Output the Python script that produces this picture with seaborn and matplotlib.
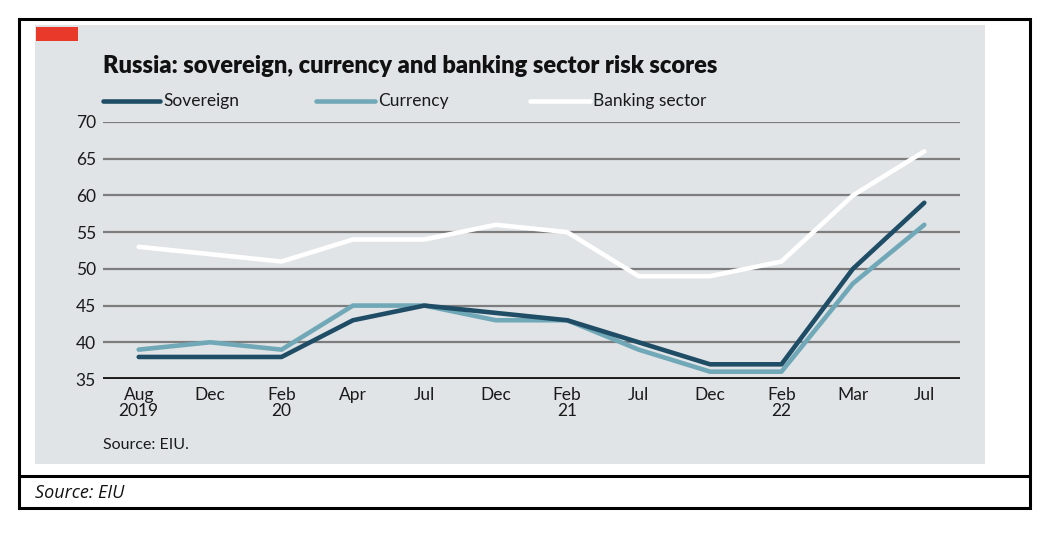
import pandas as pd
import numpy as np
import matplotlib
matplotlib.use('Agg')
import matplotlib.pyplot as plt
from matplotlib.patches import Rectangle
from matplotlib.lines import Line2D
import seaborn as sns

# values
periods = ['Aug\n2019', 'Dec', 'Feb\n20', 'Apr', 'Jul', 'Dec', 'Feb\n21',
           'Jul', 'Dec', 'Feb\n22', 'Mar', 'Jul']
sovereign = [38, 38, 38, 43, 45, 44, 43, 40, 37, 37, 50, 59]
currency = [39, 40, 39, 45, 45, 43, 43, 39, 36, 36, 48, 56]
banking = [53, 52, 51, 54, 54, 56, 55, 49, 49, 51, 60, 66]
series_names = ['Sovereign', 'Currency', 'Banking sector']
y_ticks = [35, 40, 45, 50, 55, 60, 65, 70]

colors = {'Sovereign': '#1f4d66', 'Currency': '#70a8b7', 'Banking sector': '#ffffff'}
panel_bg = '#e0e4e7'

sns.set_style('white')
plt.rcParams['font.family'] = ['Lato', 'DejaVu Sans']

df = pd.DataFrame({
    'idx': np.tile(np.arange(len(periods)), 3),
    'score': sovereign + currency + banking,
    'series': np.repeat(series_names, len(periods)),
})

fig = plt.figure(figsize=(10.55, 5.34), dpi=100)
W, H = 1055, 534

def fx(px):
    return px / W

def fy(py):
    return 1 - py / H

# outer frame, grey panel and footer
fig.patches.append(Rectangle((fx(35), fy(464)), fx(985) - fx(35), fy(25) - fy(464),
                             transform=fig.transFigure, facecolor=panel_bg,
                             edgecolor='none', zorder=-2))
fig.patches.append(Rectangle((fx(36), fy(41)), fx(78) - fx(36), fy(27) - fy(41),
                             transform=fig.transFigure, facecolor='#e8392a',
                             edgecolor='none', zorder=-1))
fig.patches.append(Rectangle((fx(19), fy(508)), fx(1030) - fx(19), fy(19) - fy(508),
                             transform=fig.transFigure, facecolor='none',
                             edgecolor='black', linewidth=2.2, zorder=2))
fig.lines.append(Line2D([fx(19), fx(1030)], [fy(476), fy(476)], transform=fig.transFigure,
                        color='black', linewidth=2.2))

ax = fig.add_axes([fx(103), fy(379), fx(960) - fx(103), fy(122) - fy(379)])
ax.set_facecolor('none')

for y in y_ticks[1:]:
    ax.axhline(y, color='#7d7d7d', linewidth=1.6, zorder=1)
ax.axhline(35, color='#1a1a1a', linewidth=2.8, zorder=1)

sns.lineplot(data=df, x='idx', y='score', hue='series', palette=colors,
             hue_order=['Banking sector', 'Currency', 'Sovereign'],
             linewidth=3.3, legend=False, ax=ax, zorder=3)

ax.set_xlim(-0.5, len(periods) - 0.5)
ax.set_ylim(35, 70)
ax.set_xticks(range(len(periods)))
ax.set_xticklabels(periods, fontsize=12.5, linespacing=0.95)
ax.set_yticks(y_ticks)
ax.set_yticklabels([str(v) for v in y_ticks], fontsize=12.5)
ax.tick_params(axis='both', length=0, colors='#1a1a1a')
ax.tick_params(axis='y', pad=5)
ax.tick_params(axis='x', pad=6)
ax.set_xlabel('')
ax.set_ylabel('')
for s in ax.spines.values():
    s.set_visible(False)

fig.text(fx(103), fy(66), 'Russia: sovereign, currency and banking sector risk scores',
         fontsize=17, fontweight='heavy', color='#111111', va='center', ha='left')

# legend row
legend_pos = [(103, 160, 163), (316, 375, 378), (530, 590, 593)]
for name, (x0, x1, xt) in zip(series_names, legend_pos):
    fig.lines.append(Line2D([fx(x0), fx(x1)], [fy(101), fy(101)], transform=fig.transFigure,
                            color=colors[name], linewidth=3.3, solid_capstyle='round'))
    fig.text(fx(xt), fy(101), name, fontsize=12.5, color='#1a1a1a', va='center', ha='left')

fig.text(fx(103), fy(445), 'Source: EIU.', fontsize=11.5, color='#1a1a1a', va='center', ha='left')
fig.text(fx(35), fy(493), 'Source: EIU', fontsize=13, style='italic', color='#111111',
         va='center', ha='left', family=['Open Sans', 'DejaVu Sans'])

fig.savefig('out.png', dpi=100)
